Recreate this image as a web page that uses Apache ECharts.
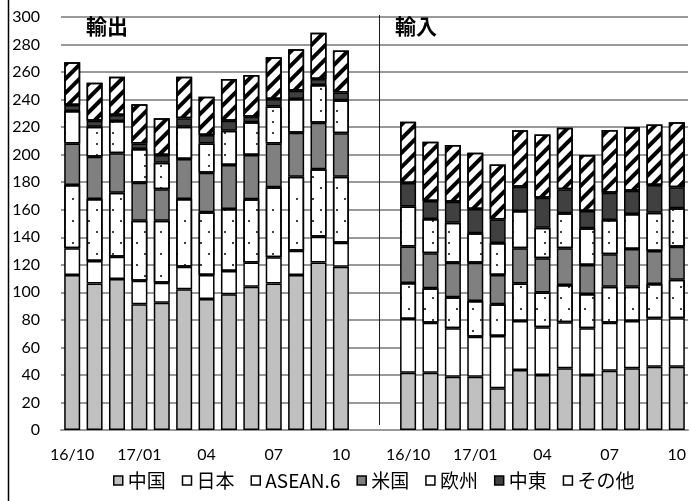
<!DOCTYPE html>
<html>
<head>
<meta charset="utf-8">
<script src="https://cdn.jsdelivr.net/npm/echarts@6/dist/echarts.min.js"></script>
<style>
html, body { margin: 0; padding: 0; background: #fff; }
#main { width: 691px; height: 501px; }
</style>
</head>
<body>
<div id="main"></div>
<script>
// 月（各パネル13本）
var months = ['16/10', '16/11', '16/12', '17/01', '17/02', '17/03', '17/04', '17/05', '17/06', '17/07', '17/08', '17/09', '17/10'];
var tickLabels = {'16/10': '16/10', '17/01': '17/01', '17/04': '04', '17/07': '07', '17/10': '10'};
var seriesNames = ['中国', '日本', 'ASEAN.6', '米国', '欧州', '中東', 'その他'];

// 輸出
var exChina  = [112.6, 106.5, 109.7, 91.3, 92.5, 102.2, 95.2, 98.6, 104.1, 106.5, 112.6, 121.6, 118.6];
var exJapan  = [19.4, 16.3, 16.2, 17.1, 14.5, 16.4, 17.4, 16.9, 17.5, 18.9, 17.6, 18.8, 17.4];
var exAsean  = [46.0, 45.0, 46.5, 43.6, 45.0, 49.2, 45.5, 45.0, 46.0, 50.9, 53.8, 49.0, 48.0];
var exUS     = [30.2, 30.7, 28.6, 27.6, 22.8, 29.0, 28.8, 32.0, 32.2, 31.9, 32.0, 33.8, 31.5];
var exEurope = [23.5, 21.8, 23.4, 24.5, 19.4, 23.5, 21.3, 24.9, 23.7, 26.7, 24.4, 27.4, 24.0];
var exMideast= [4.4, 4.4, 4.4, 4.1, 5.6, 6.1, 6.1, 7.3, 4.1, 5.5, 6.1, 4.4, 5.6];
var exOther  = [31.0, 27.6, 27.8, 28.4, 26.6, 30.2, 27.8, 30.3, 30.3, 30.3, 30.1, 33.6, 30.6];

// 輸入
var imChina  = [41.6, 41.6, 38.7, 38.7, 30.3, 43.6, 40.0, 44.8, 40.0, 43.1, 44.8, 46.0, 46.0];
var imJapan  = [39.0, 36.3, 35.2, 29.1, 38.0, 35.6, 34.6, 33.4, 33.9, 34.8, 34.4, 35.1, 35.1];
var imAsean  = [26.1, 25.0, 22.5, 25.9, 23.0, 27.3, 25.2, 27.1, 24.9, 26.2, 24.9, 25.0, 28.0];
var imUS     = [26.6, 25.4, 25.1, 27.8, 21.3, 25.5, 24.9, 26.7, 21.1, 23.5, 27.4, 23.9, 24.1];
var imEurope = [29.1, 25.0, 29.1, 21.4, 23.3, 27.1, 22.2, 25.4, 26.6, 24.9, 25.4, 27.8, 27.9];
var imMideast= [17.0, 13.0, 15.2, 17.6, 17.0, 17.6, 21.8, 17.5, 12.6, 19.9, 16.9, 20.2, 15.3];
var imOther  = [44.5, 43.1, 41.2, 40.9, 39.9, 41.0, 46.0, 44.6, 40.7, 45.6, 46.2, 44.0, 47.2];

var gap = ['', ''];
var categories = months.concat(gap, months);
function joinData(ex, im) { return ex.concat([null, null], im); }

var exData = [exChina, exJapan, exAsean, exUS, exEurope, exMideast, exOther];
var imData = [imChina, imJapan, imAsean, imUS, imEurope, imMideast, imOther];

var fills = ['#c0c0c0', '#ffffff', '#ffffff', '#808080', '#ffffff', '#404040', '#ffffff'];
var decals = [
    null,
    null,
    { symbol: 'circle', symbolSize: 1, color: '#000', dashArrayX: [[2, 14], [0, 8, 2, 6]], dashArrayY: [2, 9] },
    null,
    { symbol: 'circle', symbolSize: 1, color: '#000', dashArrayX: [[2, 14]], dashArrayY: [2, 9] },
    null,
    { symbol: 'rect', symbolSize: 1, color: '#000', dashArrayX: [[1, 0]], dashArrayY: [4, 6], rotation: -Math.PI / 4 }
];

var font = 'Lato, "Noto Sans CJK JP", sans-serif';
var jpFont = '"Noto Sans CJK JP", sans-serif';

var myChart = echarts.init(document.getElementById('main'));

var series = seriesNames.map(function (name, i) {
    var style = { color: fills[i], borderColor: '#000', borderWidth: 1.5 };
    if (decals[i]) style.decal = decals[i];
    return {
        name: name,
        type: 'bar',
        stack: 'total',
        barWidth: 16,
        itemStyle: style,
        emphasis: { disabled: true },
        data: joinData(exData[i], imData[i])
    };
});

option = {
    animation: false,
    title: [
        { text: '輸出', left: 86, top: 16, padding: 0, textStyle: { fontFamily: jpFont, fontSize: 21, fontWeight: 'bold', color: '#000' } },
        { text: '輸入', left: 395, top: 16, padding: 0, textStyle: { fontFamily: jpFont, fontSize: 21, fontWeight: 'bold', color: '#000' } }
    ],
    legend: {
        data: seriesNames,
        bottom: 6,
        left: 108,
        icon: 'rect',
        itemWidth: 9,
        itemHeight: 9,
        itemGap: 16,
        itemStyle: { decal: 'none', borderColor: '#000', borderWidth: 1.5 },
        textStyle: { fontFamily: jpFont, fontSize: 19, color: '#000' }
    },
    grid: { left: 61, right: 3, top: 17, bottom: 71 },
    xAxis: {
        type: 'category',
        data: categories,
        axisTick: { show: false },
        axisLine: { lineStyle: { color: '#999', width: 2 } },
        axisLabel: {
            interval: 0,
            margin: 17,
            fontFamily: font,
            fontSize: 16,
            color: '#000',
            formatter: function (v) { return tickLabels[v] || ''; }
        }
    },
    yAxis: {
        type: 'value',
        min: 0,
        max: 300,
        interval: 20,
        axisLine: { show: false },
        axisTick: { show: false },
        axisLabel: { margin: 21, fontFamily: font, fontSize: 16, color: '#000' },
        splitLine: { lineStyle: { color: '#999', width: 2 } }
    },
    series: series
};

myChart.setOption(option);

// 輸出／輸入の区切り線
var x13 = myChart.convertToPixel({ xAxisIndex: 0 }, 13);
var x14 = myChart.convertToPixel({ xAxisIndex: 0 }, 14);
var sepX = Math.round(x14 - (x14 - x13) * 0.28) + 0.5;
myChart.setOption({
    graphic: [
        { type: 'line', shape: { x1: 8.5, y1: 0, x2: 8.5, y2: 501 }, style: { stroke: '#000', lineWidth: 1.5 } },
        { type: 'line', shape: { x1: sepX, y1: 15, x2: sepX, y2: 425 }, style: { stroke: '#0000ff', lineWidth: 1 } }
    ]
});
</script>
</body>
</html>
